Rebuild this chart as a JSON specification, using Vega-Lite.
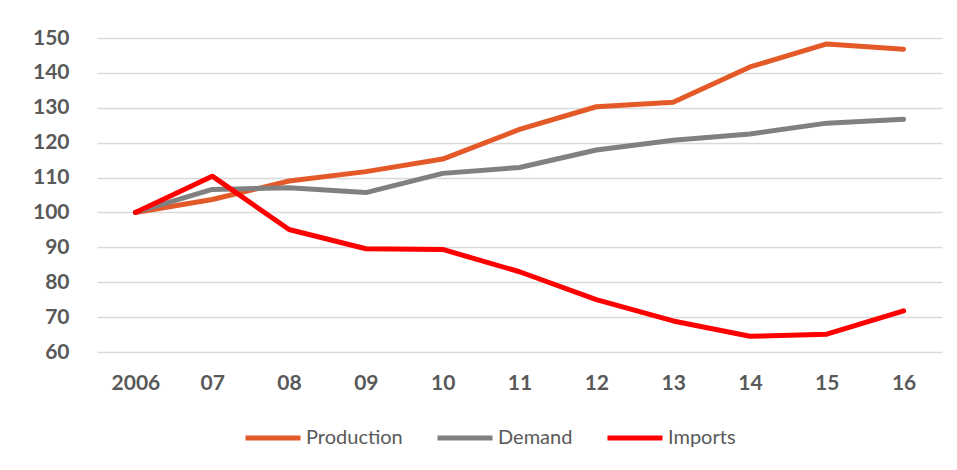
{
  "$schema": "https://vega.github.io/schema/vega-lite/v6.json",
  "width": 845,
  "height": 314,
  "autosize": {"type": "none"},
  "padding": {"left": 97, "top": 38, "right": 15, "bottom": 118},
  "background": "#ffffff",
  "config": {
    "view": {"stroke": null},
    "font": "Lato"
  },
  "data": {
    "values": [
      {"year": "2006", "series": "Production", "value": 100},
      {"year": "07", "series": "Production", "value": 103.7},
      {"year": "08", "series": "Production", "value": 109.0},
      {"year": "09", "series": "Production", "value": 111.7},
      {"year": "10", "series": "Production", "value": 115.3},
      {"year": "11", "series": "Production", "value": 123.8},
      {"year": "12", "series": "Production", "value": 130.3},
      {"year": "13", "series": "Production", "value": 131.6},
      {"year": "14", "series": "Production", "value": 141.7},
      {"year": "15", "series": "Production", "value": 148.3},
      {"year": "16", "series": "Production", "value": 146.8},
      {"year": "2006", "series": "Demand", "value": 100},
      {"year": "07", "series": "Demand", "value": 106.6},
      {"year": "08", "series": "Demand", "value": 107.1},
      {"year": "09", "series": "Demand", "value": 105.7},
      {"year": "10", "series": "Demand", "value": 111.2},
      {"year": "11", "series": "Demand", "value": 112.9},
      {"year": "12", "series": "Demand", "value": 117.9},
      {"year": "13", "series": "Demand", "value": 120.7},
      {"year": "14", "series": "Demand", "value": 122.5},
      {"year": "15", "series": "Demand", "value": 125.6},
      {"year": "16", "series": "Demand", "value": 126.7},
      {"year": "2006", "series": "Imports", "value": 100},
      {"year": "07", "series": "Imports", "value": 110.4},
      {"year": "08", "series": "Imports", "value": 95.1},
      {"year": "09", "series": "Imports", "value": 89.6},
      {"year": "10", "series": "Imports", "value": 89.4},
      {"year": "11", "series": "Imports", "value": 83.0},
      {"year": "12", "series": "Imports", "value": 75.0},
      {"year": "13", "series": "Imports", "value": 68.9},
      {"year": "14", "series": "Imports", "value": 64.5},
      {"year": "15", "series": "Imports", "value": 65.1},
      {"year": "16", "series": "Imports", "value": 71.8}
    ]
  },
  "mark": {"type": "line", "strokeWidth": 5, "strokeCap": "round", "strokeJoin": "round"},
  "encoding": {
    "x": {
      "field": "year",
      "type": "ordinal",
      "sort": null,
      "scale": {"type": "point", "padding": 0.5},
      "axis": {
        "title": null,
        "domain": false,
        "ticks": false,
        "grid": false,
        "labelAngle": 0,
        "labelFont": "Lato",
        "labelFontSize": 21,
        "labelFontWeight": "bold",
        "labelColor": "#595959",
        "labelPadding": 20
      }
    },
    "y": {
      "field": "value",
      "type": "quantitative",
      "scale": {"domain": [60, 150], "nice": false, "zero": false},
      "axis": {
        "title": null,
        "domain": false,
        "ticks": false,
        "values": [60, 70, 80, 90, 100, 110, 120, 130, 140, 150],
        "gridColor": "#D9D9D9",
        "gridWidth": 1.5,
        "labelFont": "Lato",
        "labelFontSize": 21,
        "labelFontWeight": "bold",
        "labelColor": "#595959",
        "labelPadding": 28
      }
    },
    "color": {
      "field": "series",
      "type": "nominal",
      "sort": ["Production", "Demand", "Imports"],
      "scale": {
        "domain": ["Production", "Demand", "Imports"],
        "range": ["#E35A28", "#808080", "#FF0000"]
      },
      "legend": {
        "title": null,
        "orient": "none",
        "direction": "horizontal",
        "legendX": 146,
        "legendY": 370,
        "symbolType": "stroke",
        "symbolSize": 3025,
        "symbolStrokeWidth": 5,
        "labelFont": "Lato",
        "labelFontSize": 20,
        "labelColor": "#595959",
        "labelOffset": 3,
        "columnPadding": 24
      }
    }
  }
}
